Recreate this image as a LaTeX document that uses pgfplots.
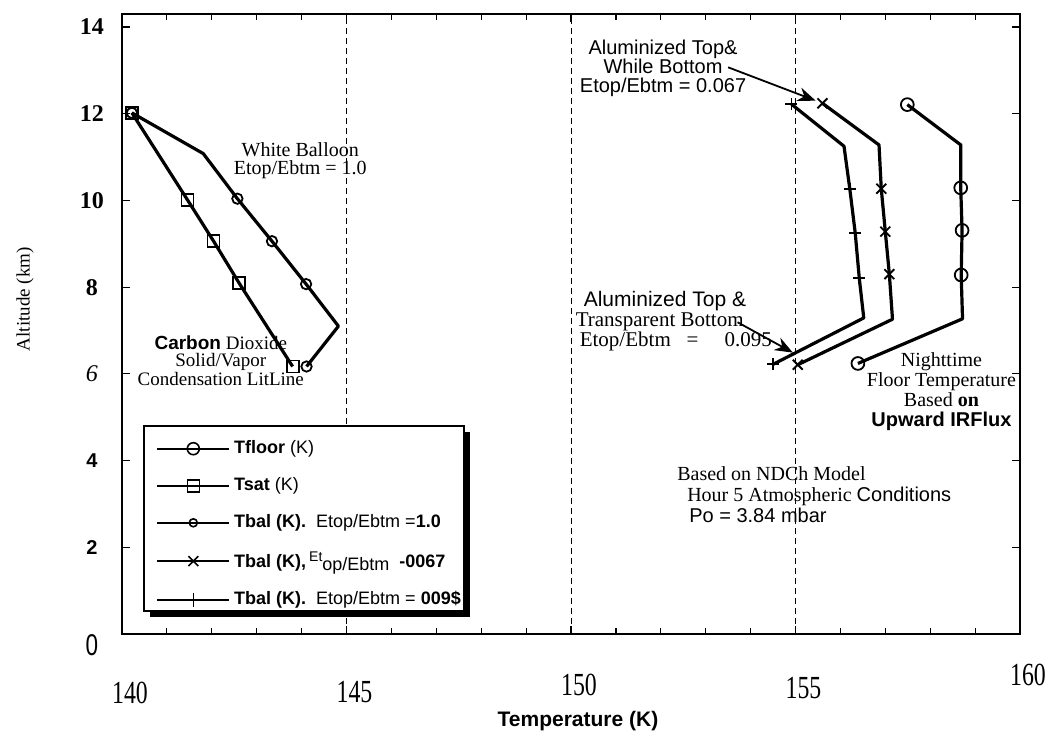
\documentclass[border=0pt]{standalone}
\usepackage{pgfplots}
\pgfplotsset{compat=1.18}
\usepackage{fontspec}
\setmainfont{Liberation Serif}
\setsansfont{Liberation Sans}
\usetikzlibrary{arrows.meta}
\newcommand\xl[2]{\raisebox{#1}{\scalebox{0.85}[1.15]{#2}}}
\begin{document}
\begin{tikzpicture}
\begin{axis}[
  name=ax,
  scale only axis,
  width=449pt, height=310pt,
  xmin=140, xmax=160, ymin=0, ymax=14.3,
  clip=false,
  axis line style={line width=0.7pt},
  xtick={140,145,150,155,160},
  xticklabels={\xl{-9pt}{140},\xl{-8.5pt}{145},\xl{-5pt}{150},\xl{-6.5pt}{155},\xl{0pt}{160}},
  minor x tick num=4,
  xmajorgrids,
  major grid style={densely dashed, line width=0.5pt, black},
  ytick={0,2,4,6,8,10,12,14},
  yticklabels={{\raisebox{-10.5pt}[0pt][0pt]{\sffamily\fontsize{15}{15}\selectfont\scalebox{0.75}[1]{0}}},{\sffamily\bfseries\fontsize{10}{10}\selectfont 2},{\sffamily\bfseries\fontsize{10}{10}\selectfont 4},{\itshape 6},{\bfseries 8},{\bfseries 10},{\bfseries 12},{\bfseries 14}},
  tick align=inside,
  major tick length=4pt, minor tick length=3pt,
  tick style={black, line width=0.6pt},
  xticklabel style={anchor=base, yshift=-25.5pt, xshift=4pt, font=\fontsize{14}{14}\selectfont},
  yticklabel style={anchor=center, xshift=-15pt, font=\fontsize{12}{12}\selectfont},
  xlabel={Temperature (K)},
  xlabel style={at={(axis description cs:0.5,0)}, anchor=center, yshift=-43.5pt, xshift=3.5pt, font=\sffamily\bfseries\fontsize{10.5}{10.5}\selectfont},
  ylabel={Altitude (km)},
  ylabel style={at={(axis description cs:-0.108,0.54)}, anchor=center, font=\fontsize{9.5}{9.5}\selectfont},
  legend cell align=left,
  legend style={at={(rel axis cs:0.0245,0.335)}, anchor=north west, draw=none, fill=none,
    font=\sffamily\fontsize{9}{9}\selectfont, inner xsep=6pt, inner ysep=5pt, row sep=6.5pt},
  legend image code/.code={\draw[mark repeat=2,mark phase=2,#1] plot coordinates {(0pt,0pt) (18pt,0pt) (36pt,0pt)};},
]
% legend entries
\addlegendimage{black, line width=0.9pt, mark=o, mark size=3pt, mark options={line width=0.8pt}}
\addlegendentry{\textbf{Tfloor} (K)}
\addlegendimage{black, line width=0.9pt, mark=square, mark size=3pt, mark options={line width=0.8pt}}
\addlegendentry{\textbf{Tsat} (K)}
\addlegendimage{black, line width=0.9pt, mark=o, mark size=2pt, mark options={line width=0.8pt}}
\addlegendentry{\textbf{Tbal (K).}\ \ Etop/Ebtm =\textbf{1.0}}
\addlegendimage{black, line width=0.9pt, mark=x, mark size=3.5pt, mark options={line width=0.8pt}}
\addlegendentry{\textbf{Tbal (K),}\,\raisebox{3pt}{\fontsize{7}{7}\selectfont Et}\raisebox{-1.5pt}{op/Ebtm}\ \ \textbf{-0067}}
\addlegendimage{black, line width=0.9pt, mark=+, mark size=3.5pt, mark options={line width=0.8pt}}
\addlegendentry{\textbf{Tbal (K).}\ \ Etop/Ebtm = \textbf{009\$}}

% legend frame with heavy right/bottom edge
\fill[black] ([xshift=3pt,yshift=-3pt]rel axis cs:0.0245,0.335) rectangle ++(160pt,-92.5pt);
\filldraw[fill=white, draw=black, line width=0.9pt] (rel axis cs:0.0245,0.335) rectangle ++(160pt,-92.5pt);

% Tsat (CO2 condensation line)
\addplot[forget plot, black, line width=1.6pt, line join=round] coordinates {
(140.22,12.02) (141.46,10.01) (142.04,9.06) (142.61,8.09) (143.80,6.17)};
\addplot[forget plot, only marks, black, mark=square, mark size=3pt, mark options={line width=0.9pt}] coordinates {
(140.22,12.02) (141.46,10.01) (142.04,9.06) (142.61,8.09) (143.80,6.17)};

% White balloon, Etop/Ebtm = 1.0
\addplot[forget plot, black, line width=1.6pt, line join=round] coordinates {
(140.22,12.02) (141.81,11.08) (142.57,10.04) (143.34,9.06) (144.10,8.07) (144.82,7.10) (144.11,6.17)};
\addplot[forget plot, only marks, black, mark=o, mark size=2.6pt, mark options={line width=0.9pt}] coordinates {
(140.22,12.02) (142.57,10.04) (143.34,9.06) (144.10,8.07) (144.11,6.17)};

% Aluminized top & white bottom, 0.067
\addplot[forget plot, black, line width=1.6pt, line join=round] coordinates {
(155.60,12.24) (156.86,11.28) (156.91,10.27) (157.00,9.28) (157.09,8.30) (157.16,7.26) (155.05,6.21)};
\addplot[forget plot, only marks, black, mark=x, mark size=3.5pt, mark options={line width=0.9pt}] coordinates {
(155.60,12.24) (156.91,10.27) (157.00,9.28) (157.09,8.30) (155.05,6.21)};

% Aluminized top & transparent bottom, 0.095
\addplot[forget plot, black, line width=1.6pt, line join=round] coordinates {
(154.91,12.22) (156.08,11.25) (156.21,10.26) (156.33,9.25) (156.42,8.21) (156.52,7.29) (154.50,6.22)};
\addplot[forget plot, only marks, black, mark=+, mark size=3pt, mark options={line width=0.9pt}] coordinates {
(154.91,12.22) (156.21,10.26) (156.33,9.25) (156.42,8.21) (154.50,6.22)};

% Tfloor
\addplot[forget plot, black, line width=1.6pt, line join=round] coordinates {
(157.49,12.21) (158.68,11.28) (158.68,10.29) (158.71,9.31) (158.69,8.28) (158.72,7.27) (156.39,6.24)};
\addplot[forget plot, only marks, black, mark=o, mark size=3.2pt, mark options={line width=0.9pt}] coordinates {
(157.49,12.21) (158.68,10.29) (158.71,9.31) (158.69,8.28) (156.39,6.24)};

% annotations
\node[align=center, font=\fontsize{10}{9}\selectfont] at (axis cs:143.97,10.92) {White Balloon\\Etop/Ebtm = 1.0};
\node[align=center, font=\fontsize{9.5}{8.5}\selectfont] at (axis cs:142.20,6.30) {{\sffamily\bfseries Carbon} Dioxide\\Solid/Vapor\\Condensation LitLine};
\node[align=center, font=\sffamily\fontsize{10}{9.5}\selectfont] at (axis cs:152.05,13.04) {Aluminized Top\&\\While Bottom\\Etop/Ebtm = 0.067};
\draw[-{Stealth[length=9pt,width=7pt]}, line width=0.9pt] (axis cs:153.50,13.07) -- (axis cs:155.45,12.30);
\node[align=left, anchor=west, font=\fontsize{10.5}{10}\selectfont] at (axis cs:149.95,7.22) {\hspace*{4pt}{\sffamily Aluminized Top \&}\\Transparent Bottom\\\hspace*{2pt}Etop/Ebtm\ \ \ =\ \ \ \ \ 0.095};
\draw[-{Stealth[length=9pt,width=7pt]}, line width=0.9pt] (axis cs:153.71,7.19) -- (axis cs:154.94,6.49);
\node[align=center, font=\fontsize{10}{10}\selectfont] at (axis cs:158.25,5.60) {Nighttime\\Floor Temperature\\Based \textbf{on}\\{\sffamily\bfseries Upward IRFlux}};
\node[align=left, anchor=west, font=\fontsize{10}{10.5}\selectfont] at (axis cs:152.21,3.22) {Based on NDCh Model\\\hspace*{5pt}Hour 5 Atmospheric {\sffamily Conditions}\\\hspace*{6pt}{\sffamily Po = 3.84 mbar}};
\end{axis}
\pgfresetboundingbox
\path ([xshift=-61pt,yshift=-52pt]ax.south west) rectangle ([xshift=16.5pt,yshift=7pt]ax.north east);
\end{tikzpicture}
\end{document}
